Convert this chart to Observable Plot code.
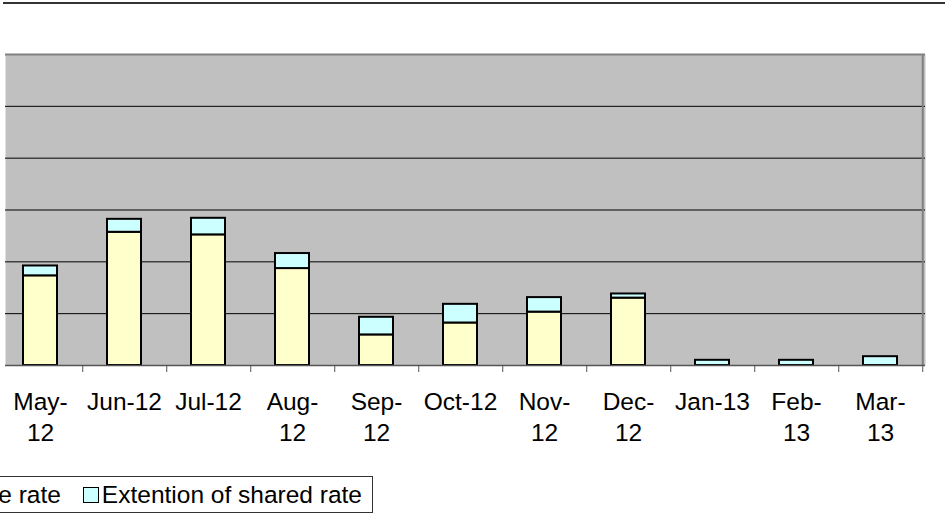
<!DOCTYPE html>
<html>
<head>
<meta charset="utf-8">
<script src="https://cdn.jsdelivr.net/npm/d3@7"></script>
<script src="https://cdn.jsdelivr.net/npm/@observablehq/plot@0.6"></script>
<style>
  html, body { margin: 0; padding: 0; background: #fff; }
  #wrap { position: relative; width: 945px; height: 528px; overflow: hidden; font-family: "Liberation Sans", Arial, sans-serif; }
  #topline { position: absolute; left: 3px; top: 2px; width: 950px; height: 2px; background: #333; }
  #chart { position: absolute; left: 0; top: 0; }
  #legend { position: absolute; right: 572px; top: 476px; height: 35px; border: 1px solid #333; background: #fff;
            display: flex; align-items: center; white-space: nowrap; font-size: 24.5px; color: #000; padding: 0 10px 0 6px; }
  .sw { display: inline-block; width: 14px; height: 14px; border: 1.5px solid #000; margin-right: 3px; }
  .item { display: flex; align-items: center; }
  .gap { width: 22px; }
</style>
</head>
<body>
<div id="wrap">
  <div id="topline"></div>
  <div id="chart"></div>
  <div id="legend"></div>
</div>
<script>
const categories = ["May-12","Jun-12","Jul-12","Aug-12","Sep-12","Oct-12","Nov-12","Dec-12","Jan-13","Feb-13","Mar-13"];
const tickLabels = ["May-\n12","Jun-12","Jul-12","Aug-\n12","Sep-\n12","Oct-12","Nov-\n12","Dec-\n12","Jan-13","Feb-\n13","Mar-\n13"];
const sharedRate = [1.73, 2.57, 2.52, 1.87, 0.59, 0.82, 1.03, 1.30, 0, 0, 0];
const extension  = [0.19, 0.25, 0.32, 0.29, 0.34, 0.36, 0.28, 0.08, 0.10, 0.10, 0.17];
const seriesNames = ["Share rate", "Extention of shared rate"];
const seriesColors = ["#ffffcc", "#ccffff"];
const gridValues = [1, 2, 3, 4, 5];

const rows = categories.map((c, i) => ({cat: c, base: sharedRate[i], ext: extension[i], total: sharedRate[i] + extension[i]}));
const step = (925 + 4.5) / categories.length;
const font = "Liberation Sans, Arial, sans-serif";

const chart = Plot.plot({
  width: 945,
  height: 460,
  marginTop: 54,
  marginBottom: 95,
  marginLeft: 5,
  marginRight: 20,
  style: {fontFamily: font, background: "transparent", fontSize: "24.5px"},
  x: {domain: categories, range: [-4.5, 925], paddingInner: 0.6, paddingOuter: 0.3, axis: null},
  y: {domain: [0, 6], axis: null},
  marks: [
    Plot.frame({fill: "#c0c0c0", stroke: null}),
    Plot.ruleY(gridValues, {stroke: "#000", strokeWidth: 1}),
    Plot.ruleY([6], {stroke: "#808080", strokeWidth: 2}),
    Plot.ruleX([categories[categories.length - 1]], {dx: step / 2, stroke: "#808080", strokeWidth: 2}),
    Plot.barY(rows.filter(d => d.base > 0), {x: "cat", y1: 0, y2: "base", fill: seriesColors[0], stroke: "#000", strokeWidth: 2}),
    Plot.barY(rows.filter(d => d.ext > 0), {x: "cat", y1: "base", y2: "total", fill: seriesColors[1], stroke: "#000", strokeWidth: 2}),
    Plot.ruleY([0], {stroke: "#555", strokeWidth: 1.5}),
    Plot.axisX({tickSize: 7, tickFormat: () => "", dx: step / 2, stroke: "#555", label: null}),
    Plot.axisX({tickSize: 0, tickPadding: 22, tickFormat: (d) => tickLabels[categories.indexOf(d)],
                fontSize: 24.5, lineHeight: 1.27, fill: "#000", label: null})
  ]
});
document.getElementById("chart").appendChild(chart);

const legend = document.getElementById("legend");
seriesNames.forEach((name, i) => {
  if (i > 0) { const g = document.createElement("span"); g.className = "gap"; legend.appendChild(g); }
  const item = document.createElement("span"); item.className = "item";
  const sw = document.createElement("span"); sw.className = "sw"; sw.style.background = seriesColors[i];
  const t = document.createElement("span"); t.textContent = name;
  item.appendChild(sw); item.appendChild(t);
  legend.appendChild(item);
});
</script>
</body>
</html>
